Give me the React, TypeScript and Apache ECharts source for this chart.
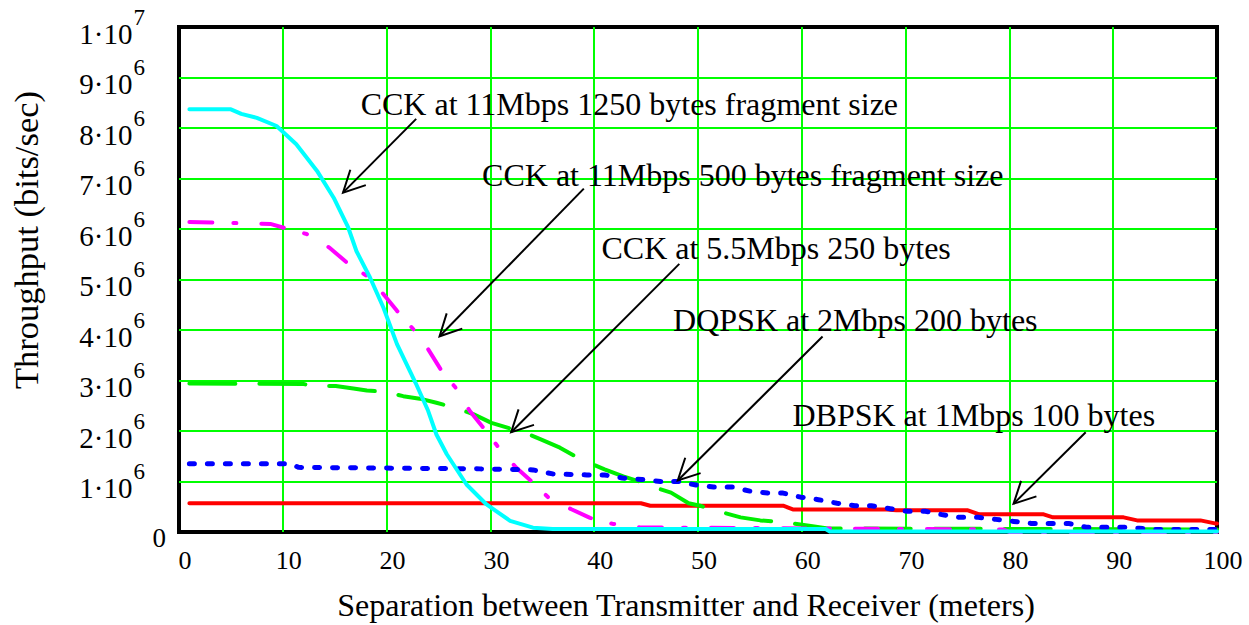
import React, { useEffect, useRef } from "react";
import * as echarts from "echarts";

// Separation between transmitter and receiver (m) and throughput (bits/sec) per trace.
const CCK11_1250_X = [1, 5, 6, 7.5, 9.4, 11.3, 13.3, 14.9, 16.3, 17.1, 18.4, 19.7, 21, 22.8, 24, 24.8, 25.8, 27.7, 29.6, 31.9, 34.1, 36, 62.3, 62.7, 100];
const CCK11_1250_Y = [8.37e6, 8.37e6, 8.28e6, 8.2e6, 8.04e6, 7.68e6, 7.15e6, 6.62e6, 6.03e6, 5.56e6, 5.04e6, 4.44e6, 3.72e6, 2.95e6, 2.4e6, 1.93e6, 1.54e6, 0.94e6, 0.55e6, 0.22e6, 0.085e6, 0.06e6, 0.06e6, 0.01e6, 0.01e6];

const CCK11_500_X = [1, 8.8, 10, 12.3, 14.5, 16.2, 18.1, 19.7, 21, 22.6, 24, 25.3, 26.6, 28, 29.3, 30.8, 32.5, 34.1, 35.6, 37.8, 39.6, 41.8, 44.4, 79.4, 80, 100];
const CCK11_500_Y = [6.14e6, 6.1e6, 6.03e6, 5.9e6, 5.63e6, 5.33e6, 5.07e6, 4.71e6, 4.38e6, 4.01e6, 3.62e6, 3.19e6, 2.87e6, 2.4e6, 2.07e6, 1.67e6, 1.27e6, 0.98e6, 0.68e6, 0.45e6, 0.28e6, 0.16e6, 0.09e6, 0.05e6, 0, 0];

const CCK55_X = [1, 12, 12.9, 15.1, 16.8, 18.1, 19.8, 21.6, 23.2, 24.8, 26.6, 28.4, 30.1, 31.9, 32.9, 34.8, 36.7, 38, 39.3, 41, 42.8, 44.5, 45.7, 47.4, 49.1, 50.2, 52, 54.1, 56, 57.3, 59.1, 61.2, 62.5, 100];
const CCK55_Y = [2.94e6, 2.93e6, 2.89e6, 2.89e6, 2.84e6, 2.8e6, 2.78e6, 2.69e6, 2.64e6, 2.56e6, 2.46e6, 2.33e6, 2.16e6, 2.05e6, 2.0e6, 1.84e6, 1.67e6, 1.52e6, 1.39e6, 1.24e6, 1.1e6, 0.99e6, 0.89e6, 0.78e6, 0.57e6, 0.52e6, 0.41e6, 0.29e6, 0.23e6, 0.21e6, 0.17e6, 0.11e6, 0.07e6, 0.05e6];

const DQPSK_X = [1, 10.8, 11.5, 29, 34.1, 36, 39.3, 41, 42.7, 44.6, 46.4, 48.1, 49.8, 51.5, 53.3, 55, 56.8, 58.2, 59.9, 61.6, 63.4, 65.1, 66.7, 68.5, 70.2, 71.9, 73.6, 75.2, 77, 78.7, 80.4, 82.1, 85.7, 87.4, 90.9, 92.5, 94.2, 100];
const DQPSK_Y = [1.35e6, 1.35e6, 1.28e6, 1.25e6, 1.23e6, 1.15e6, 1.13e6, 1.13e6, 1.07e6, 1.04e6, 1.0e6, 1.0e6, 0.93e6, 0.89e6, 0.89e6, 0.81e6, 0.77e6, 0.77e6, 0.69e6, 0.64e6, 0.57e6, 0.52e6, 0.52e6, 0.46e6, 0.41e6, 0.41e6, 0.34e6, 0.29e6, 0.29e6, 0.25e6, 0.21e6, 0.17e6, 0.17e6, 0.095e6, 0.095e6, 0.075e6, 0.05e6, 0.05e6];

const DBPSK_X = [1, 44.5, 45.4, 58.2, 59.2, 68.2, 69.1, 76, 77.1, 83.3, 84.2, 91, 92.3, 98.4, 99.8, 100];
const DBPSK_Y = [0.57e6, 0.57e6, 0.52e6, 0.52e6, 0.445e6, 0.445e6, 0.43e6, 0.43e6, 0.35e6, 0.35e6, 0.29e6, 0.29e6, 0.23e6, 0.23e6, 0.17e6, 0.17e6];

// Annotation callouts, in data units: label anchor, arrow tail, arrow tip.
const NOTES = [
  { text: "CCK at 11Mbps 1250 bytes fragment size", at: [17.5, 8.48e6], tail: [22.85, 8.18e6], tip: [15.8, 6.72e6] },
  { text: "CCK at 11Mbps 500 bytes fragment size", at: [29.2, 7.06e6], tail: [39.0, 6.8e6], tip: [25.1, 3.875e6] },
  { text: "CCK at 5.5Mbps 250 bytes", at: [40.7, 5.62e6], tail: [48.2, 5.31e6], tip: [32.0, 1.975e6] },
  { text: "DQPSK at 2Mbps 200 bytes", at: [47.6, 4.2e6], tail: [62.0, 3.87e6], tip: [48.05, 1.02e6] },
  { text: "DBPSK at 1Mbps 100 bytes", at: [59.1, 2.31e6], tail: [87.35, 1.975e6], tip: [80.4, 0.56e6] },
];

const X_TITLE = "Separation between Transmitter and Receiver (meters)";
const Y_TITLE = "Throughput (bits/sec)";

const SERIF = '"Liberation Serif", "Times New Roman", serif';

const pairs = (xs: number[], ys: number[]) => xs.map((x, i) => [x, ys[i]]);

export default function App() {
  const ref = useRef<HTMLDivElement>(null);

  useEffect(() => {
    document.body.style.margin = "0";
    const chart = echarts.init(ref.current!, undefined, { renderer: "svg" });

    const line = (name: string, data: number[][], color: string, width: number, type: any, z: number) => ({
      name,
      type: "line",
      data,
      symbol: "none",
      showSymbol: false,
      z,
      lineStyle: { color, width, type, cap: "round", join: "round" },
    });

    chart.setOption({
      animation: false,
      backgroundColor: "#ffffff",
      grid: {
        left: 179,
        top: 27,
        width: 1038,
        height: 505,
        show: true,
        borderColor: "#000",
        borderWidth: 4,
        backgroundColor: "transparent",
      },
      xAxis: {
        type: "value",
        min: 0,
        max: 100,
        interval: 10,
        axisLine: { show: false },
        axisTick: { show: false },
        splitLine: { show: true, showMinLine: false, showMaxLine: false, lineStyle: { color: "#00ff00", width: 2 } },
        axisLabel: {
          showMinLabel: true,
          showMaxLabel: true,
          margin: 15,
          padding: [0, 0, 0, 12],
          color: "#000",
          fontFamily: SERIF,
          fontSize: 26,
        },
      },
      yAxis: {
        type: "value",
        min: 0,
        max: 1e7,
        interval: 1e6,
        axisLine: { show: false },
        axisTick: { show: false },
        splitLine: { show: true, showMinLine: false, showMaxLine: false, lineStyle: { color: "#00ff00", width: 2 } },
        axisLabel: {
          showMinLabel: true,
          showMaxLabel: true,
          margin: 13,
          formatter: (v: number) => {
            if (v === 0) return "{z|0}";
            const exp = Math.floor(Math.log10(v) + 1e-9);
            const mant = Math.round(v / Math.pow(10, exp));
            return `{m|${mant}\u00b710}{s|${exp}}{p|}`;
          },
          // Mantissa sits low in its box, exponent high in a box of the same height.
          rich: {
            m: { fontFamily: SERIF, fontSize: 29, color: "#000", lineHeight: 29, padding: [13, 0, 0, 0] },
            z: { fontFamily: SERIF, fontSize: 27, color: "#000", lineHeight: 27, padding: [12, 0, 0, 0] },
            s: { fontFamily: SERIF, fontSize: 23, color: "#000", lineHeight: 22, padding: [0, 0, 20, 1] },
            p: { width: 21, height: 42 },
          },
        },
      },
      series: [
        line("DBPSK at 1Mbps 100 bytes", pairs(DBPSK_X, DBPSK_Y), "#ff0000", 4, "solid", 2),
        line("CCK at 5.5Mbps 250 bytes", pairs(CCK55_X, CCK55_Y), "#00ee00", 4, [46, 24], 3),
        line("CCK at 11Mbps 500 bytes", pairs(CCK11_500_X, CCK11_500_Y), "#ff00ff", 4, [23, 21, 3, 25], 4),
        line("DQPSK at 2Mbps 200 bytes", pairs(DQPSK_X, DQPSK_Y), "#0000ff", 5, [5, 13], 5),
        line("CCK at 11Mbps 1250 bytes", pairs(CCK11_1250_X, CCK11_1250_Y), "#00ffff", 4, "solid", 6),
      ],
    });

    // Callout labels and open-headed arrows, placed through the grid's coordinate system.
    const toPx = (p: number[]) => chart.convertToPixel({ gridIndex: 0 }, p) as number[];
    const head = 24;
    const spread = (27 * Math.PI) / 180;
    const graphics: any[] = [];
    NOTES.forEach((n) => {
      const a = toPx(n.at);
      const s = toPx(n.tail);
      const t = toPx(n.tip);
      const dx = s[0] - t[0];
      const dy = s[1] - t[1];
      const len = Math.hypot(dx, dy);
      const ux = dx / len;
      const uy = dy / len;
      const arm = (ang: number) => [
        t[0] + head * (ux * Math.cos(ang) - uy * Math.sin(ang)),
        t[1] + head * (ux * Math.sin(ang) + uy * Math.cos(ang)),
      ];
      graphics.push({
        type: "text",
        x: a[0],
        y: a[1],
        z: 100,
        style: { text: n.text, font: `32px ${SERIF}`, fill: "#000", textAlign: "left", textVerticalAlign: "middle", align: "left", verticalAlign: "middle" },
      });
      graphics.push({
        type: "line",
        z: 100,
        shape: { x1: s[0], y1: s[1], x2: t[0], y2: t[1] },
        style: { stroke: "#000", lineWidth: 2 },
      });
      graphics.push({
        type: "polyline",
        z: 100,
        shape: { points: [arm(spread), t, arm(-spread)] },
        style: { stroke: "#000", lineWidth: 2, fill: null },
      });
    });

    graphics.push({
      type: "text",
      x: 686,
      y: 605,
      style: { text: X_TITLE, font: `32px ${SERIF}`, fill: "#000", textAlign: "center", textVerticalAlign: "middle", align: "center", verticalAlign: "middle" },
    });
    graphics.push({
      type: "text",
      x: 26,
      y: 240,
      rotation: Math.PI / 2,
      style: { text: Y_TITLE, font: `34.5px ${SERIF}`, fill: "#000", textAlign: "center", textVerticalAlign: "middle", align: "center", verticalAlign: "middle" },
    });

    chart.setOption({ graphic: graphics });

    return () => chart.dispose();
  }, []);

  return <div ref={ref} style={{ width: 1249, height: 625 }} />;
}
